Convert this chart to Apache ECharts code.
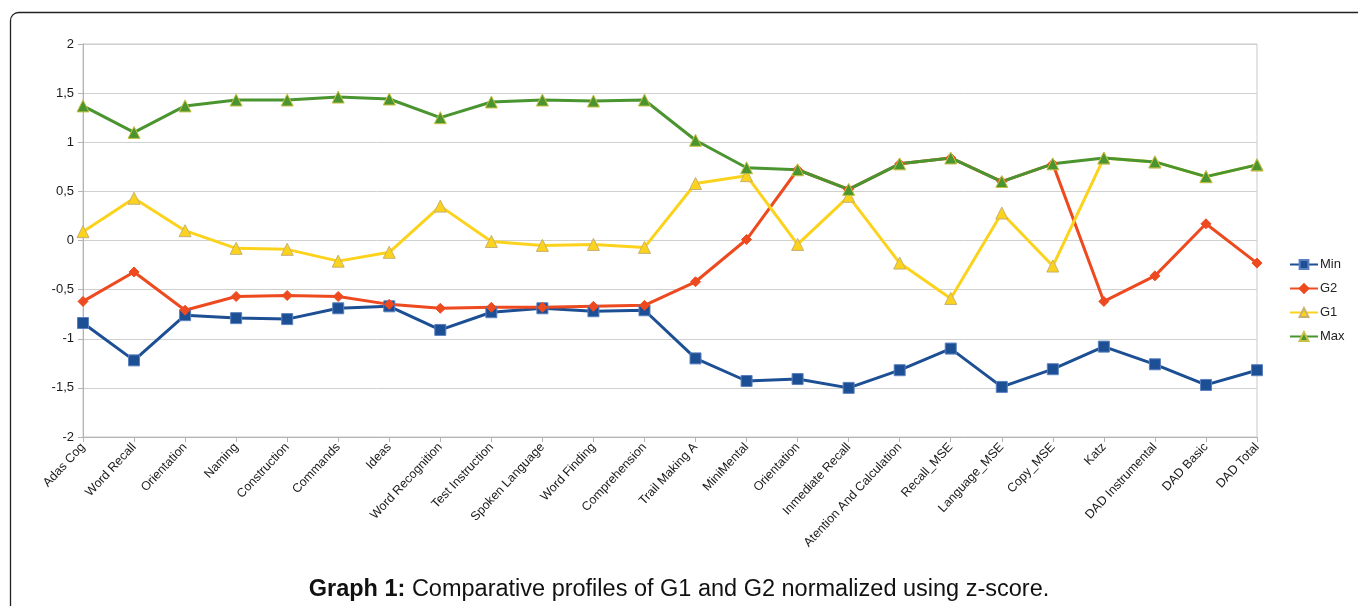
<!DOCTYPE html>
<html>
<head>
<meta charset="utf-8">
<script src="https://cdn.jsdelivr.net/npm/echarts@6/dist/echarts.min.js"></script>
<style>
  html, body { margin: 0; padding: 0; background: #fff; }
  #chart { width: 1358px; height: 606px; }
</style>
</head>
<body>
<div id="chart"></div>
<script>
// categorias del eje x
var categories = ["Adas Cog", "Word Recall", "Orientation", "Naming", "Construction", "Commands", "Ideas",
    "Word Recognition", "Test Instruction", "Spoken Language", "Word Finding", "Comprehension",
    "Trail Making A", "MiniMental", "Orientation", "Inmediate Recall", "Atention And Calculation",
    "Recall_MSE", "Language_MSE", "Copy_MSE", "Katz", "DAD Instrumental", "DAD Basic", "DAD Total"];

var minValues = [-0.84, -1.22, -0.76, -0.79, -0.80, -0.69, -0.67, -0.91, -0.73, -0.69, -0.72, -0.71,
    -1.20, -1.43, -1.41, -1.50, -1.32, -1.10, -1.49, -1.31, -1.08, -1.26, -1.47, -1.32];
var g2Values = [-0.62, -0.32, -0.71, -0.57, -0.56, -0.57, -0.65, -0.69, -0.68, -0.68, -0.67, -0.66,
    -0.42, 0.01, 0.72, 0.52, 0.78, 0.84, 0.60, 0.78, -0.62, -0.36, 0.17, -0.23];
var g1Values = [0.09, 0.43, 0.10, -0.08, -0.09, -0.21, -0.12, 0.35, -0.01, -0.05, -0.04, -0.07,
    0.58, 0.66, -0.04, 0.45, -0.23, -0.59, 0.28, -0.26, 0.84, 0.80, 0.65, 0.77];
var maxValues = [1.37, 1.10, 1.37, 1.43, 1.43, 1.46, 1.44, 1.25, 1.41, 1.43, 1.42, 1.43,
    1.02, 0.74, 0.72, 0.52, 0.78, 0.84, 0.60, 0.78, 0.84, 0.80, 0.65, 0.77];

var yTicks = [-2, -1.5, -1, -0.5, 0, 0.5, 1, 1.5, 2];

var myChart = echarts.init(document.getElementById('chart'));

var font = 'Liberation Sans, Arial, sans-serif';

function serie(name, data, color, symbol, size, border) {
    return {
        name: name,
        type: 'line',
        data: data,
        symbol: symbol,
        symbolSize: size,
        showAllSymbol: true,
        lineStyle: { color: color, width: 3 },
        itemStyle: { color: color, borderColor: border, borderWidth: 1 },
        emphasis: { disabled: true },
        animation: false
    };
}

var option = {
    backgroundColor: '#fff',
    grid: { left: 83, right: 101, top: 44, bottom: 169, show: true, borderColor: '#c8c8c8', borderWidth: 1 },
    legend: {
        orient: 'vertical',
        left: 1284,
        top: 253,
        itemGap: 11,
        itemWidth: 28,
        itemHeight: 11,
        textStyle: { fontFamily: font, fontSize: 13, color: '#222', padding: [0, 0, 0, -3] },
        data: ['Min', 'G2', 'G1', 'Max']
    },
    xAxis: {
        type: 'category',
        data: categories,
        boundaryGap: false,
        axisLine: { onZero: false, lineStyle: { color: '#b4b4b4', width: 1 } },
        axisTick: { show: true, alignWithLabel: true, length: 5, lineStyle: { color: '#b4b4b4' } },
        axisLabel: { rotate: 47, interval: 0, fontFamily: font, fontSize: 12.5, color: '#1a1a1a', margin: 8 },
        splitLine: { show: false }
    },
    yAxis: {
        type: 'value',
        min: yTicks[0],
        max: yTicks[yTicks.length - 1],
        interval: 0.5,
        axisLine: { show: true, lineStyle: { color: '#b4b4b4' } },
        axisTick: { show: true, length: 5, lineStyle: { color: '#b4b4b4' } },
        axisLabel: {
            fontFamily: font, fontSize: 13, color: '#1a1a1a', margin: 9,
            formatter: function (v) { return String(v).replace('.', ','); }
        },
        splitLine: { lineStyle: { color: '#d0d0d0', width: 1 } }
    },
    series: [
        serie('Min', minValues, '#1c4f94', 'rect', 11, '#5a80c0'),
        serie('G2', g2Values, '#ee4a1f', 'diamond', 10, '#ee4a1f'),
        serie('G1', g1Values, '#fcd31c', 'triangle', 12, '#c8b070'),
        serie('Max', maxValues, '#4a9530', 'triangle', 12, '#c8c040')
    ],
    graphic: [
        {
            type: 'rect',
            shape: { x: 10.5, y: 12.5, width: 1400, height: 700, r: 8 },
            style: { fill: 'none', stroke: '#222', lineWidth: 1.3 },
            silent: true
        },
        {
            type: 'text',
            left: 'center',
            top: 578,
            style: {
                text: '{b|Graph 1:} Comparative profiles of G1 and G2 normalized using z-score.',
                rich: {
                    b: { fontFamily: font, fontSize: 23.5, fontWeight: 'bold', fill: '#111' }
                },
                fontFamily: font,
                fontSize: 23.5,
                fill: '#111'
            },
            silent: true
        }
    ]
};

myChart.setOption(option);
</script>
</body>
</html>
